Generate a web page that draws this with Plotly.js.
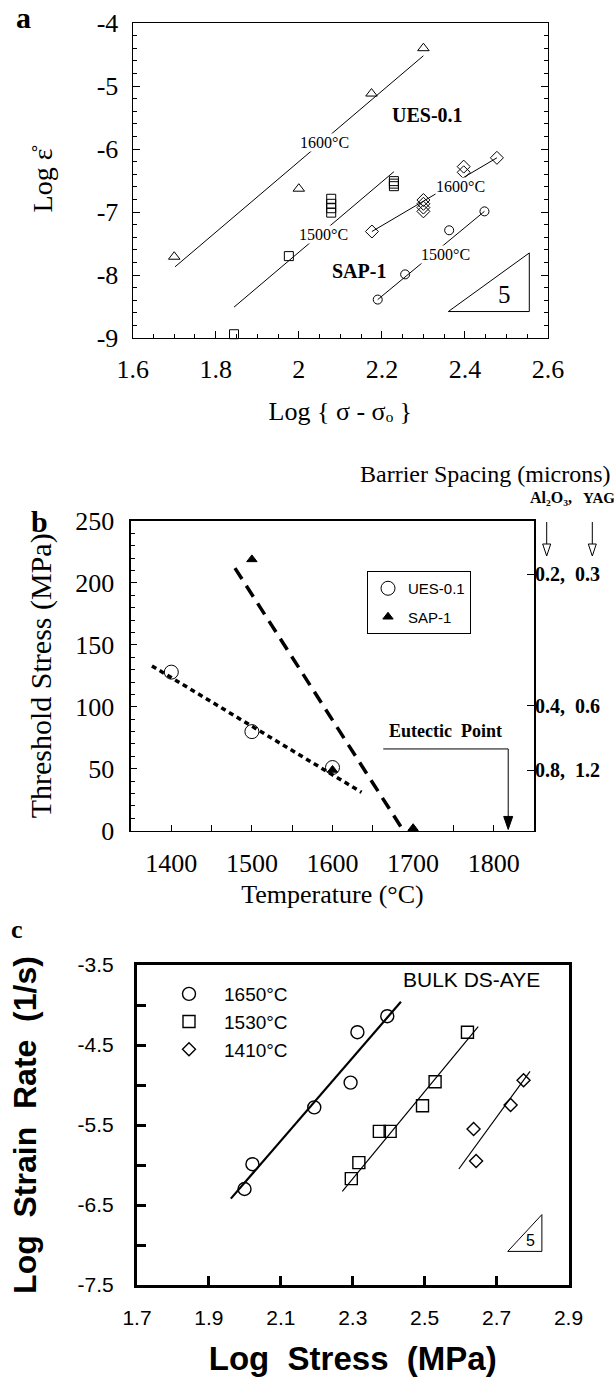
<!DOCTYPE html>
<html><head><meta charset="utf-8">
<script src="https://cdn.plot.ly/plotly-3.0.1.min.js"></script>
<style>html,body{margin:0;padding:0;background:#fff}#chart{width:614px;height:1377px}</style>
</head><body><div id="chart"></div>
<script>
// ---------- Panel a data ----------
const aUES1600_x = [1.70, 2.00, 2.175, 2.30];
const aUES1600_y = [-7.71, -6.63, -5.12, -4.40];
const aUES1500_x = [1.844, 1.976, 2.078, 2.078, 2.078, 2.078, 2.229, 2.229, 2.229];
const aUES1500_y = [-8.94, -7.70, -6.79, -6.87, -6.94, -7.01, -6.51, -6.55, -6.59];
const aSAP1600_x = [2.176, 2.30, 2.30, 2.30, 2.30, 2.397, 2.397, 2.477];
const aSAP1600_y = [-7.31, -6.81, -6.87, -6.93, -6.99, -6.28, -6.37, -6.14];
const aSAP1500_x = [2.19, 2.256, 2.362, 2.447];
const aSAP1500_y = [-8.39, -7.99, -7.29, -6.99];
const aFitUES1600_x = [1.702, 2.30], aFitUES1600_y = [-7.87, -4.52];
const aFitUES1500_x = [1.844, 2.229], aFitUES1500_y = [-8.51, -6.36];
const aFitSAP1600_x = [2.176, 2.477], aFitSAP1600_y = [-7.31, -6.14];
const aFitSAP1500_x = [2.19, 2.447], aFitSAP1500_y = [-8.39, -6.99];
const aXTicks = [1.6, 1.8, 2.0, 2.2, 2.4, 2.6];
const aXTickText = ['1.6', '1.8', '2', '2.2', '2.4', '2.6'];
const aYTicks = [-9, -8, -7, -6, -5, -4];
const aYTickText = ['-9', '-8', '-7', '-6', '-5', '-4'];

// ---------- Panel b data ----------
const bUES_T = [1400, 1500, 1600];
const bUES_S = [128, 80, 51];
const bSAP_T = [1500, 1600, 1700];
const bSAP_S = [219, 49, 2];
const bFitUES_T = [1376, 1636], bFitUES_S = [133, 31];
const bFitSAP_T = [1479, 1686], bFitSAP_S = [212, 2];
const bEutecticT = 1818;
const bXTicks = [1400, 1500, 1600, 1700, 1800];
const bYTicks = [0, 50, 100, 150, 200, 250];
const bSpacingVals = [207, 101, 49];
const bSpacingLabels = ['0.2,\u00A0\u00A00.3', '0.4,\u00A0\u00A00.6', '0.8,\u00A0\u00A01.2'];

// ---------- Panel c data ----------
const c1650_x = [1.999, 2.021, 2.193, 2.294, 2.313, 2.396];
const c1650_y = [-6.30, -5.99, -5.28, -4.97, -4.34, -4.14];
const c1530_x = [2.296, 2.317, 2.374, 2.404, 2.494, 2.529, 2.619];
const c1530_y = [-6.17, -5.97, -5.58, -5.58, -5.26, -4.96, -4.34];
const c1410_x = [2.636, 2.643, 2.739, 2.775];
const c1410_y = [-5.55, -5.95, -5.25, -4.94];
const cFit1650_x = [1.961, 2.434], cFit1650_y = [-6.42, -3.96];
const cFit1530_x = [2.271, 2.649], cFit1530_y = [-6.33, -4.27];
const cFit1410_x = [2.595, 2.793], cFit1410_y = [-6.05, -4.83];
const cXTicks = [1.7, 1.9, 2.1, 2.3, 2.5, 2.7, 2.9];
const cXTickText = ['1.7', '1.9', '2.1', '2.3', '2.5', '2.7', '2.9'];
const cYTicks = [-7.5, -6.5, -5.5, -4.5, -3.5];
const cYTickText = ['-7.5', '-6.5', '-5.5', '-4.5', '-3.5'];

// ---------- helpers ----------
const W = 614, H = 1377;
const SERIF = 'Liberation Serif, Times New Roman, serif';
const SANS = 'Liberation Sans, Arial, sans-serif';
const BLK = '#000';
const px = p => p / W;
const py = p => 1 - p / H;
const P = (x, y) => px(x) + ',' + py(y);

function pts(x, y, xa, ya, symbol, size, extra) {
  return Object.assign({
    type: 'scatter', mode: 'markers', x: x, y: y, xaxis: xa, yaxis: ya,
    marker: {symbol: symbol, size: size, color: BLK, line: {color: BLK, width: 1}},
    cliponaxis: false, showlegend: false, hoverinfo: 'skip'
  }, extra || {});
}
function fit(x, y, xa, ya, width, dash) {
  return {type: 'scatter', mode: 'lines', x: x, y: y, xaxis: xa, yaxis: ya,
    line: {color: BLK, width: width, dash: dash || 'solid'}, showlegend: false,
    hoverinfo: 'skip', cliponaxis: false};
}
// empty trace so that the overlaying right-hand label axis of panel b gets drawn
function holder(xa, ya) {
  return {type: 'scatter', mode: 'markers', x: [], y: [], xaxis: xa, yaxis: ya, showlegend: false, hoverinfo: 'skip'};
}

const traces = [
  // panel a
  fit(aFitUES1600_x, aFitUES1600_y, 'x', 'y', 1),
  fit(aFitUES1500_x, aFitUES1500_y, 'x', 'y', 1),
  fit(aFitSAP1600_x, aFitSAP1600_y, 'x', 'y', 1),
  fit(aFitSAP1500_x, aFitSAP1500_y, 'x', 'y', 1),
  pts(aUES1600_x, aUES1600_y, 'x', 'y', 'triangle-up-open', 10),
  pts(aUES1500_x, aUES1500_y, 'x', 'y', 'square-open', 9),
  pts(aSAP1600_x, aSAP1600_y, 'x', 'y', 'diamond-open', 10),
  pts(aSAP1500_x, aSAP1500_y, 'x', 'y', 'circle-open', 9),
  // panel b
  fit(bFitUES_T, bFitUES_S, 'x2', 'y2', 3.5, '5px,4px'),
  fit(bFitSAP_T, bFitSAP_S, 'x2', 'y2', 3.5, '13px,8px'),
  pts(bUES_T, bUES_S, 'x2', 'y2', 'circle-open', 14,
      {name: 'UES-0.1', showlegend: true, legend: 'legend', legendgroup: 'g1'}),
  pts(bSAP_T, bSAP_S, 'x2', 'y2', 'triangle-up', 9,
      {name: 'SAP-1', showlegend: true, legend: 'legend', legendgroup: 'g2'}),
  holder('x2', 'y3'),
  // panel c
  fit(cFit1650_x, cFit1650_y, 'x3', 'y4', 2.2),
  fit(cFit1530_x, cFit1530_y, 'x3', 'y4', 1.2),
  fit(cFit1410_x, cFit1410_y, 'x3', 'y4', 1.2),
  pts(c1650_x, c1650_y, 'x3', 'y4', 'circle-open', 13,
      {name: '1650\u00B0C', showlegend: true, legend: 'legend2', marker: {symbol: 'circle-open', size: 13, color: BLK, line: {color: BLK, width: 1.4}}}),
  pts(c1530_x, c1530_y, 'x3', 'y4', 'square-open', 12,
      {name: '1530\u00B0C', showlegend: true, legend: 'legend2', marker: {symbol: 'square-open', size: 12, color: BLK, line: {color: BLK, width: 1.4}}}),
  pts(c1410_x, c1410_y, 'x3', 'y4', 'diamond-open', 10,
      {name: '1410\u00B0C', showlegend: true, legend: 'legend2', marker: {symbol: 'diamond-open', size: 10, color: BLK, line: {color: BLK, width: 1.4}}})
];

const baseAxis = {showgrid: false, zeroline: false, showline: true, linecolor: BLK, color: BLK, ticks: 'inside', tickcolor: BLK, automargin: false};

const layout = {
  width: W, height: H, margin: {l: 0, r: 0, t: 0, b: 0},
  paper_bgcolor: '#fff', plot_bgcolor: '#fff', showlegend: true,
  font: {family: SERIF, color: BLK},
  // ----- panel a -----
  xaxis: Object.assign({}, baseAxis, {
    domain: [px(132.7), px(548)], anchor: 'y', range: [1.6, 2.6],
    tickmode: 'array', tickvals: aXTicks, ticktext: aXTickText, ticklen: 7, tickwidth: 1,
    minor: {tickmode: 'linear', tick0: 1.6, dtick: 0.05, ticks: 'inside', ticklen: 4, tickcolor: BLK, showgrid: false},
    linewidth: 1.2, mirror: true, tickfont: {family: SERIF, size: 26, color: BLK}, ticklabelstandoff: 8,
    title: {text: 'Log { \u03C3 - \u03C3\u2092 }', font: {family: SERIF, size: 26, color: BLK}, standoff: 18}
  }),
  yaxis: Object.assign({}, baseAxis, {
    domain: [py(338), py(23)], anchor: 'x', range: [-9, -4],
    tickmode: 'array', tickvals: aYTicks, ticktext: aYTickText, ticklen: 7, tickwidth: 1,
    minor: {tickmode: 'linear', tick0: -9, dtick: 0.2, ticks: 'inside', ticklen: 4, tickcolor: BLK, showgrid: false},
    linewidth: 1.2, mirror: 'ticks', tickfont: {family: SERIF, size: 26, color: BLK}, ticklabelstandoff: 8,
    title: {text: 'Log \u03B5\u030A', font: {family: SERIF, size: 28, color: BLK}, standoff: 35}
  }),
  // ----- panel b -----
  xaxis2: Object.assign({}, baseAxis, {
    domain: [px(131), px(534)], anchor: 'y2', range: [1350, 1850],
    tickmode: 'array', tickvals: bXTicks, ticklen: 6, tickwidth: 1,
    minor: {tickmode: 'linear', tick0: 1350, dtick: 50, ticks: 'inside', ticklen: 6, tickcolor: BLK, showgrid: false},
    linewidth: 1.6, mirror: true, tickfont: {family: SERIF, size: 26, color: BLK}, ticklabelstandoff: 8,
    title: {text: 'Temperature (\u00B0C)', font: {family: SERIF, size: 26, color: BLK}, standoff: 8}
  }),
  yaxis2: Object.assign({}, baseAxis, {
    domain: [py(830.7), py(521)], anchor: 'x2', range: [0, 250],
    tickmode: 'array', tickvals: bYTicks, ticklen: 6, tickwidth: 1,
    minor: {tickmode: 'linear', tick0: 0, dtick: 10, ticks: 'inside', ticklen: 4, tickcolor: BLK, showgrid: false},
    linewidth: 1.6, mirror: true, tickfont: {family: SERIF, size: 26, color: BLK}, ticklabelstandoff: 10,
    title: {text: 'Threshold Stress (MPa)', font: {family: SERIF, size: 30, color: BLK}, standoff: 14}
  }),
  yaxis3: {
    overlaying: 'y2', side: 'right', anchor: 'x2', range: [0, 250], showgrid: false, zeroline: false, showline: false,
    tickmode: 'array', tickvals: bSpacingVals, ticktext: bSpacingLabels, ticks: 'inside', ticklen: 7, tickcolor: BLK,
    showticklabels: true, tickfont: {family: SERIF, size: 20, color: BLK, weight: 'bold'}, ticklabelstandoff: 0
  },
  // ----- panel c -----
  xaxis3: Object.assign({}, baseAxis, {
    domain: [px(137), px(568.5)], anchor: 'y4', range: [1.7, 2.9],
    tickmode: 'array', tickvals: cXTicks, ticktext: cXTickText, ticklen: 9, tickwidth: 3,
    linewidth: 3, mirror: true, tickfont: {family: SANS, size: 21, color: BLK}, ticklabelstandoff: 12,
    title: {text: 'Log\u00A0\u00A0Stress\u00A0\u00A0(MPa)', font: {family: SANS, size: 33, color: BLK, weight: 'bold'}, standoff: 21}
  }),
  yaxis4: Object.assign({}, baseAxis, {
    domain: [py(1285), py(965)], anchor: 'x3', range: [-7.5, -3.5],
    tickmode: 'array', tickvals: cYTicks, ticktext: cYTickText, ticklen: 9, tickwidth: 3,
    minor: {tickmode: 'linear', tick0: -7, dtick: 1, ticks: 'inside', ticklen: 9, tickwidth: 3, tickcolor: BLK, showgrid: false},
    linewidth: 3, mirror: true, tickfont: {family: SANS, size: 21, color: BLK}, ticklabelstandoff: 16,
    title: {text: 'Log\u00A0\u00A0Strain\u00A0\u00A0Rate\u00A0\u00A0(1/s)', font: {family: SANS, size: 32, color: BLK, weight: 'bold'}, standoff: 32}
  }),
  legend: {
    x: px(367), y: py(571), xanchor: 'left', yanchor: 'top',
    bordercolor: BLK, borderwidth: 1, bgcolor: '#fff',
    font: {family: SANS, size: 15, color: BLK}, tracegroupgap: 6, itemwidth: 30
  },
  legend2: {
    x: px(154), y: py(975), xanchor: 'left', yanchor: 'top',
    borderwidth: 0, bgcolor: 'rgba(0,0,0,0)',
    font: {family: SANS, size: 19, color: BLK}, itemwidth: 60, tracegroupgap: 0
  },
  annotations: [],
  shapes: []
};

const ann = layout.annotations;
function paperText(text, x, y, size, family, opts) {
  ann.push(Object.assign({text: text, xref: 'paper', yref: 'paper', x: px(x), y: py(y),
    xanchor: 'center', yanchor: 'middle', showarrow: false,
    font: {family: family, size: size, color: BLK}}, opts || {}));
}
function dataText(text, xa, ya, x, y, size, family, opts) {
  ann.push(Object.assign({text: text, xref: xa, yref: ya, x: x, y: y,
    xanchor: 'center', yanchor: 'middle', showarrow: false, borderpad: 0,
    font: {family: family, size: size, color: BLK}}, opts || {}));
}
const BOLD = {weight: 'bold'};
function boldFont(size, family) { return {font: {family: family, size: size, color: BLK, weight: 'bold'}}; }

// panel a texts
paperText('a', 23.5, 18, 30, SERIF, boldFont(30, SERIF));
dataText('1600\u00B0C', 'x', 'y', 2.063, -5.89, 16, SERIF, {bgcolor: '#fff'});
dataText('1500\u00B0C', 'x', 'y', 2.059, -7.35, 16, SERIF, {bgcolor: '#fff'});
dataText('1600\u00B0C', 'x', 'y', 2.39, -6.60, 16, SERIF, {bgcolor: '#fff'});
dataText('1500\u00B0C', 'x', 'y', 2.352, -7.67, 16, SERIF, {bgcolor: '#fff'});
dataText('UES-0.1', 'x', 'y', 2.31, -5.46, 20, SERIF, boldFont(20, SERIF));
dataText('SAP-1', 'x', 'y', 2.145, -7.93, 20, SERIF, boldFont(20, SERIF));
dataText('5', 'x', 'y', 2.496, -8.31, 25, SERIF);

// panel b texts
paperText('b', 39, 521, 30, SERIF, boldFont(30, SERIF));
paperText('Barrier Spacing (microns)', 485, 474, 24, SERIF);
paperText('Al\u2082O\u2083,', 551, 498, 16, SERIF, boldFont(16, SERIF));
paperText('YAG', 599, 498, 15, SERIF, boldFont(15, SERIF));
dataText('Eutectic\u00A0\u00A0Point', 'x2', 'y2', 1740, 80.5, 18, SERIF, boldFont(18, SERIF));

// panel c texts
paperText('c', 17, 929, 26, SERIF, boldFont(26, SERIF));
paperText('BULK DS-AYE', 471.5, 979, 21, SANS);
dataText('5', 'x3', 'y4', 2.795, -6.94, 16, SANS);

// shapes
const shp = layout.shapes;
shp.push({type: 'path', xref: 'x', yref: 'y', path: 'M 2.36,-8.58 L 2.555,-8.58 L 2.555,-7.65 Z',
  line: {color: BLK, width: 1}, fillcolor: 'rgba(0,0,0,0)'});
shp.push({type: 'path', xref: 'x3', yref: 'y4', path: 'M 2.731,-7.08 L 2.826,-7.08 L 2.826,-6.62 Z',
  line: {color: BLK, width: 1}, fillcolor: 'rgba(0,0,0,0)'});
// eutectic pointer: horizontal leader, vertical drop and filled arrowhead
shp.push({type: 'path', xref: 'x2', yref: 'y2', path: 'M 1663,66 L ' + bEutecticT + ',66 L ' + bEutecticT + ',11',
  line: {color: BLK, width: 1}});
shp.push({type: 'path', xref: 'x2', yref: 'y2',
  path: 'M ' + (bEutecticT - 5.6) + ',11.5 L ' + (bEutecticT + 5.6) + ',11.5 L ' + bEutecticT + ',1 Z',
  line: {color: BLK, width: 1}, fillcolor: BLK});
// hollow arrows under Al2O3 and YAG
[546.7, 592.3].forEach(function (ax) {
  shp.push({type: 'path', xref: 'paper', yref: 'paper', path: 'M ' + P(ax, 522) + ' L ' + P(ax, 544),
    line: {color: BLK, width: 1}});
  shp.push({type: 'path', xref: 'paper', yref: 'paper',
    path: 'M ' + P(ax - 4, 544) + ' L ' + P(ax + 4, 544) + ' L ' + P(ax, 556) + ' Z',
    line: {color: BLK, width: 1}, fillcolor: '#fff'});
});

Plotly.newPlot('chart', traces, layout, {displayModeBar: false, staticPlot: true});
</script></body></html>
